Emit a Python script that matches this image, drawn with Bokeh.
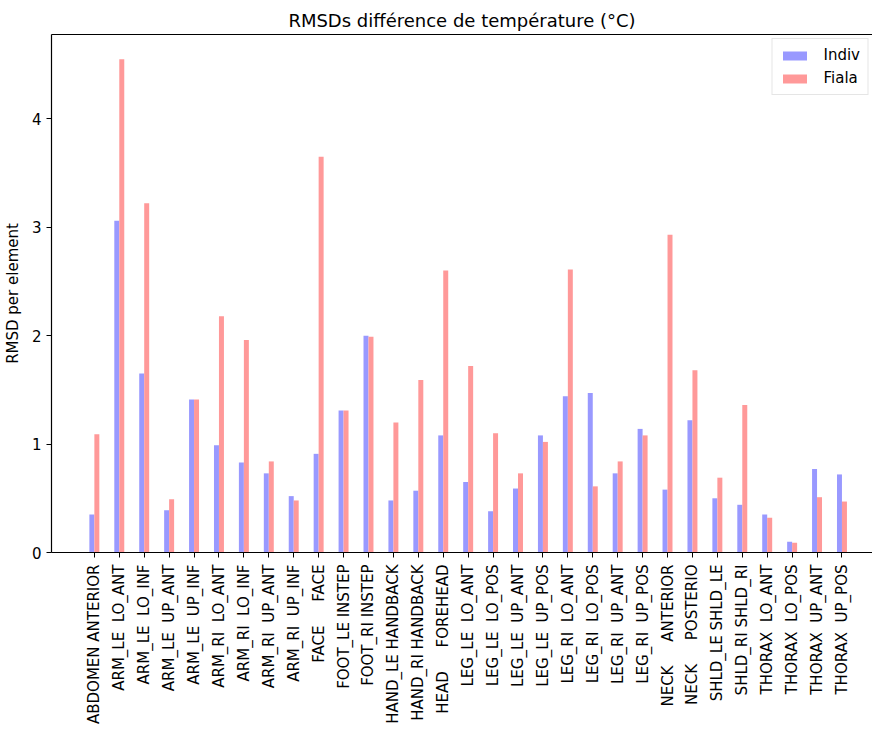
from bokeh.plotting import figure
from bokeh.models import (FixedTicker, LinearAxis, Range1d, Legend, LegendItem,
                          ColumnDataSource, Spacer)
from bokeh.layouts import column
from bokeh.transform import dodge
from bokeh.embed import file_html
from bokeh.resources import INLINE

NB = "\u00a0"

categories = [
    "ABDOMEN ANTERIOR",
    "ARM_LE  LO_ANT", "ARM_LE  LO_INF", "ARM_LE  UP_ANT", "ARM_LE  UP_INF",
    "ARM_RI  LO_ANT", "ARM_RI  LO_INF", "ARM_RI  UP_ANT", "ARM_RI  UP_INF",
    "FACE     FACE",
    "FOOT_LE INSTEP", "FOOT_RI INSTEP",
    "HAND_LE HANDBACK", "HAND_RI HANDBACK",
    "HEAD     FOREHEAD",
    "LEG_LE  LO_ANT", "LEG_LE  LO_POS", "LEG_LE  UP_ANT", "LEG_LE  UP_POS",
    "LEG_RI  LO_ANT", "LEG_RI  LO_POS", "LEG_RI  UP_ANT", "LEG_RI  UP_POS",
    "NECK     ANTERIOR", "NECK     POSTERIO",
    "SHLD_LE SHLD_LE", "SHLD_RI SHLD_RI",
    "THORAX  LO_ANT", "THORAX  LO_POS", "THORAX  UP_ANT", "THORAX  UP_POS",
]

indiv = [0.35, 3.06, 1.65, 0.39, 1.41, 0.99, 0.83, 0.73, 0.52, 0.91, 1.31,
         2.00, 0.48, 0.57, 1.08, 0.65, 0.38, 0.59, 1.08, 1.44, 1.47, 0.73,
         1.14, 0.58, 1.22, 0.50, 0.44, 0.35, 0.10, 0.77, 0.72]
fiala = [1.09, 4.55, 3.22, 0.49, 1.41, 2.18, 1.96, 0.84, 0.48, 3.65, 1.31,
         1.99, 1.20, 1.59, 2.60, 1.72, 1.10, 0.73, 1.02, 2.61, 0.61, 0.84,
         1.08, 2.93, 1.68, 0.69, 1.36, 0.32, 0.09, 0.51, 0.47]

series_names = ["Indiv", "Fiala"]
y_ticks = [0, 1, 2, 3, 4]

FONT = "DejaVu Sans"
BLUE = "#9999ff"
RED = "#ff9999"

idx = list(range(len(categories)))
labels = {i: c.replace(" ", NB) for i, c in zip(idx, categories)}

bar_w = 0.2
pad = 0.05 * (len(categories) - 1 + 2 * bar_w)
x_start = -bar_w - pad
frame_w = 821
frame_h = 518
px_per_unit = 24.92
x_end = x_start + frame_w / px_per_unit
y_end = max(fiala + indiv) * 1.05

src = ColumnDataSource(dict(x=idx, indiv=indiv, fiala=fiala))

p = figure(frame_width=frame_w, frame_height=frame_h,
           x_range=Range1d(x_start, x_end), y_range=Range1d(0, y_end),
           output_backend="svg", toolbar_location=None,
           title="RMSDs différence de température (°C)",
           min_border_left=44, min_border_right=0, min_border_top=0,
           min_border_bottom=0)

p.title.align = "center"
p.title.text_font = FONT
p.title.text_font_size = "18px"
p.title.text_font_style = "normal"
p.title.text_color = "#000000"
p.title.offset = 0
p.title.standoff = 7

r1 = p.vbar(x=dodge("x", -bar_w / 2), top="indiv", width=bar_w, source=src,
            fill_color=BLUE, line_color=None)
r2 = p.vbar(x=dodge("x", bar_w / 2), top="fiala", width=bar_w, source=src,
            fill_color=RED, line_color=None)

p.grid.visible = False
p.outline_line_color = None
p.background_fill_color = "white"
p.border_fill_color = "white"

# x axis
xa = p.xaxis[0]
xa.ticker = FixedTicker(ticks=idx)
xa.major_label_overrides = labels
xa.major_label_orientation = 3.14159265 / 2
xa.major_label_text_font = FONT
xa.major_label_text_font_size = "15px"
xa.major_label_text_color = "#000000"
xa.major_tick_out = 5
xa.major_tick_in = 0
xa.minor_tick_out = 0
xa.minor_tick_in = 0
xa.axis_line_color = "#000000"
xa.axis_line_width = 1.2
xa.major_tick_line_color = "#000000"
xa.major_label_standoff = 7

# y axis
ya = p.yaxis[0]
ya.ticker = FixedTicker(ticks=y_ticks)
ya.major_label_text_font = FONT
ya.major_label_text_font_size = "15px"
ya.major_label_text_color = "#000000"
ya.major_tick_out = 5
ya.major_tick_in = 0
ya.minor_tick_out = 0
ya.minor_tick_in = 0
ya.axis_line_color = "#000000"
ya.axis_line_width = 1.2
ya.major_tick_line_color = "#000000"
ya.major_label_standoff = 5
ya.axis_label = "RMSD per element"
ya.axis_label_text_font = FONT
ya.axis_label_text_font_size = "15px"
ya.axis_label_text_font_style = "normal"
ya.axis_label_text_color = "#000000"
ya.axis_label_standoff = 7

# top spine
top = LinearAxis(ticker=FixedTicker(ticks=[]), major_tick_out=0, major_tick_in=0,
                 minor_tick_out=0, minor_tick_in=0,
                 major_tick_line_color=None,
                 major_label_text_font_size="0px", major_label_standoff=0,
                 axis_line_color="#000000", axis_line_width=1.2)
p.add_layout(top, "above")

legend = Legend(items=[LegendItem(label=series_names[0], renderers=[r1]),
                       LegendItem(label=series_names[1], renderers=[r2])],
                location="top_right")
legend.label_text_font = FONT
legend.label_text_font_size = "15px"
legend.label_text_color = "#000000"
legend.glyph_width = 30
legend.glyph_height = 11
legend.label_standoff = 14
legend.spacing = 5
legend.padding = 7
legend.margin = 4
legend.border_line_color = "#cccccc"
legend.border_line_width = 1
legend.background_fill_alpha = 0.8
p.add_layout(legend)

layout = column(Spacer(width=10, height=4), p, spacing=0)

open("out.html", "w").write(file_html(layout, INLINE))
